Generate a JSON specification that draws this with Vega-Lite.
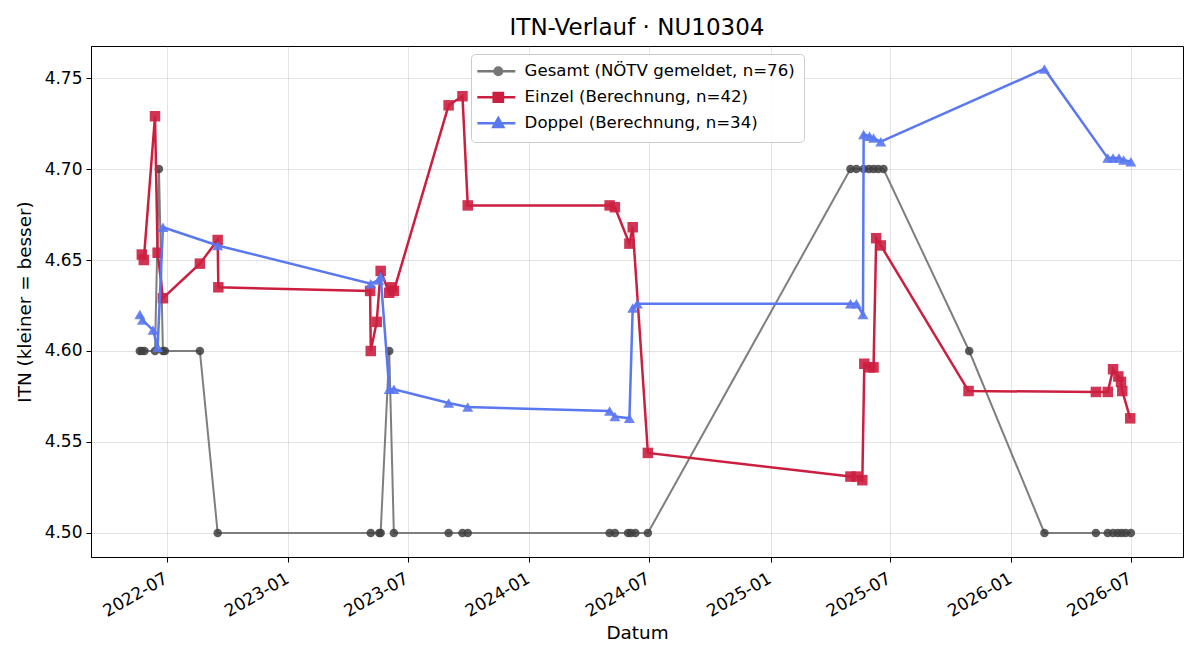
{
  "$schema": "https://vega.github.io/schema/vega-lite/v6.json",
  "width": 1092,
  "height": 511,
  "autosize": {"type": "none"},
  "padding": {"left": 91, "top": 46, "right": 17, "bottom": 103},
  "background": "white",
  "title": {"text": "ITN-Verlauf · NU10304", "fontSize": 23, "font": "DejaVu Sans", "fontWeight": "normal", "offset": 6, "color": "black"},
  "config": {
    "font": "DejaVu Sans",
    "view": {"stroke": "black", "strokeWidth": 1},
    "axis": {"labelFontSize": 17, "titleFontSize": 18.4, "labelColor": "black", "titleColor": "black", "titleFontWeight": "normal", "domainColor": "black", "tickColor": "black", "tickSize": 5, "gridColor": "#b0b0b0", "gridOpacity": 0.35, "labelPadding": 4},
    "legend": {"orient": "none", "legendX": 380, "legendY": 8, "fillColor": "rgba(255,255,255,0.85)", "strokeColor": "#cccccc", "cornerRadius": 4, "padding": 9, "labelFontSize": 16.6, "labelLimit": 500, "labelColor": "black", "symbolSize": 64, "symbolStrokeWidth": 2.5, "symbolOpacity": 1, "rowPadding": 6, "labelOffset": 28}
  },
  "data": {"values": [
    {"series": "Gesamt (NÖTV gemeldet, n=76)", "date": "2022-05-21", "itn": 4.60},
    {"series": "Gesamt (NÖTV gemeldet, n=76)", "date": "2022-05-24", "itn": 4.60},
    {"series": "Gesamt (NÖTV gemeldet, n=76)", "date": "2022-05-28", "itn": 4.60},
    {"series": "Gesamt (NÖTV gemeldet, n=76)", "date": "2022-06-13", "itn": 4.60},
    {"series": "Gesamt (NÖTV gemeldet, n=76)", "date": "2022-06-19", "itn": 4.70},
    {"series": "Gesamt (NÖTV gemeldet, n=76)", "date": "2022-06-25", "itn": 4.60},
    {"series": "Gesamt (NÖTV gemeldet, n=76)", "date": "2022-06-28", "itn": 4.60},
    {"series": "Gesamt (NÖTV gemeldet, n=76)", "date": "2022-08-20", "itn": 4.60},
    {"series": "Gesamt (NÖTV gemeldet, n=76)", "date": "2022-09-16", "itn": 4.50},
    {"series": "Gesamt (NÖTV gemeldet, n=76)", "date": "2023-05-06", "itn": 4.50},
    {"series": "Gesamt (NÖTV gemeldet, n=76)", "date": "2023-05-19", "itn": 4.50},
    {"series": "Gesamt (NÖTV gemeldet, n=76)", "date": "2023-05-21", "itn": 4.50},
    {"series": "Gesamt (NÖTV gemeldet, n=76)", "date": "2023-06-03", "itn": 4.60},
    {"series": "Gesamt (NÖTV gemeldet, n=76)", "date": "2023-06-10", "itn": 4.50},
    {"series": "Gesamt (NÖTV gemeldet, n=76)", "date": "2023-09-01", "itn": 4.50},
    {"series": "Gesamt (NÖTV gemeldet, n=76)", "date": "2023-09-22", "itn": 4.50},
    {"series": "Gesamt (NÖTV gemeldet, n=76)", "date": "2023-09-30", "itn": 4.50},
    {"series": "Gesamt (NÖTV gemeldet, n=76)", "date": "2024-05-02", "itn": 4.50},
    {"series": "Gesamt (NÖTV gemeldet, n=76)", "date": "2024-05-10", "itn": 4.50},
    {"series": "Gesamt (NÖTV gemeldet, n=76)", "date": "2024-05-30", "itn": 4.50},
    {"series": "Gesamt (NÖTV gemeldet, n=76)", "date": "2024-06-03", "itn": 4.50},
    {"series": "Gesamt (NÖTV gemeldet, n=76)", "date": "2024-06-10", "itn": 4.50},
    {"series": "Gesamt (NÖTV gemeldet, n=76)", "date": "2024-06-29", "itn": 4.50},
    {"series": "Gesamt (NÖTV gemeldet, n=76)", "date": "2025-05-02", "itn": 4.70},
    {"series": "Gesamt (NÖTV gemeldet, n=76)", "date": "2025-05-11", "itn": 4.70},
    {"series": "Gesamt (NÖTV gemeldet, n=76)", "date": "2025-05-22", "itn": 4.70},
    {"series": "Gesamt (NÖTV gemeldet, n=76)", "date": "2025-05-30", "itn": 4.70},
    {"series": "Gesamt (NÖTV gemeldet, n=76)", "date": "2025-06-06", "itn": 4.70},
    {"series": "Gesamt (NÖTV gemeldet, n=76)", "date": "2025-06-13", "itn": 4.70},
    {"series": "Gesamt (NÖTV gemeldet, n=76)", "date": "2025-06-21", "itn": 4.70},
    {"series": "Gesamt (NÖTV gemeldet, n=76)", "date": "2025-10-29", "itn": 4.60},
    {"series": "Gesamt (NÖTV gemeldet, n=76)", "date": "2026-02-20", "itn": 4.50},
    {"series": "Gesamt (NÖTV gemeldet, n=76)", "date": "2026-05-09", "itn": 4.50},
    {"series": "Gesamt (NÖTV gemeldet, n=76)", "date": "2026-05-27", "itn": 4.50},
    {"series": "Gesamt (NÖTV gemeldet, n=76)", "date": "2026-06-04", "itn": 4.50},
    {"series": "Gesamt (NÖTV gemeldet, n=76)", "date": "2026-06-11", "itn": 4.50},
    {"series": "Gesamt (NÖTV gemeldet, n=76)", "date": "2026-06-17", "itn": 4.50},
    {"series": "Gesamt (NÖTV gemeldet, n=76)", "date": "2026-06-23", "itn": 4.50},
    {"series": "Gesamt (NÖTV gemeldet, n=76)", "date": "2026-07-01", "itn": 4.50},
    {"series": "Einzel (Berechnung, n=42)", "date": "2022-05-24", "itn": 4.653},
    {"series": "Einzel (Berechnung, n=42)", "date": "2022-05-27", "itn": 4.650},
    {"series": "Einzel (Berechnung, n=42)", "date": "2022-06-13", "itn": 4.729},
    {"series": "Einzel (Berechnung, n=42)", "date": "2022-06-17", "itn": 4.654},
    {"series": "Einzel (Berechnung, n=42)", "date": "2022-06-25", "itn": 4.629},
    {"series": "Einzel (Berechnung, n=42)", "date": "2022-08-20", "itn": 4.648},
    {"series": "Einzel (Berechnung, n=42)", "date": "2022-09-16", "itn": 4.661},
    {"series": "Einzel (Berechnung, n=42)", "date": "2022-09-17", "itn": 4.635},
    {"series": "Einzel (Berechnung, n=42)", "date": "2023-05-05", "itn": 4.633},
    {"series": "Einzel (Berechnung, n=42)", "date": "2023-05-06", "itn": 4.600},
    {"series": "Einzel (Berechnung, n=42)", "date": "2023-05-15", "itn": 4.616},
    {"series": "Einzel (Berechnung, n=42)", "date": "2023-05-21", "itn": 4.644},
    {"series": "Einzel (Berechnung, n=42)", "date": "2023-06-03", "itn": 4.632},
    {"series": "Einzel (Berechnung, n=42)", "date": "2023-06-07", "itn": 4.635},
    {"series": "Einzel (Berechnung, n=42)", "date": "2023-06-10", "itn": 4.633},
    {"series": "Einzel (Berechnung, n=42)", "date": "2023-09-01", "itn": 4.735},
    {"series": "Einzel (Berechnung, n=42)", "date": "2023-09-22", "itn": 4.740},
    {"series": "Einzel (Berechnung, n=42)", "date": "2023-09-30", "itn": 4.680},
    {"series": "Einzel (Berechnung, n=42)", "date": "2024-05-02", "itn": 4.680},
    {"series": "Einzel (Berechnung, n=42)", "date": "2024-05-10", "itn": 4.679},
    {"series": "Einzel (Berechnung, n=42)", "date": "2024-06-01", "itn": 4.659},
    {"series": "Einzel (Berechnung, n=42)", "date": "2024-06-06", "itn": 4.668},
    {"series": "Einzel (Berechnung, n=42)", "date": "2024-06-29", "itn": 4.544},
    {"series": "Einzel (Berechnung, n=42)", "date": "2025-05-02", "itn": 4.531},
    {"series": "Einzel (Berechnung, n=42)", "date": "2025-05-11", "itn": 4.531},
    {"series": "Einzel (Berechnung, n=42)", "date": "2025-05-20", "itn": 4.529},
    {"series": "Einzel (Berechnung, n=42)", "date": "2025-05-23", "itn": 4.593},
    {"series": "Einzel (Berechnung, n=42)", "date": "2025-06-01", "itn": 4.591},
    {"series": "Einzel (Berechnung, n=42)", "date": "2025-06-06", "itn": 4.591},
    {"series": "Einzel (Berechnung, n=42)", "date": "2025-06-10", "itn": 4.662},
    {"series": "Einzel (Berechnung, n=42)", "date": "2025-06-17", "itn": 4.658},
    {"series": "Einzel (Berechnung, n=42)", "date": "2025-10-28", "itn": 4.578},
    {"series": "Einzel (Berechnung, n=42)", "date": "2026-05-09", "itn": 4.5775},
    {"series": "Einzel (Berechnung, n=42)", "date": "2026-05-27", "itn": 4.5775},
    {"series": "Einzel (Berechnung, n=42)", "date": "2026-06-04", "itn": 4.590},
    {"series": "Einzel (Berechnung, n=42)", "date": "2026-06-12", "itn": 4.586},
    {"series": "Einzel (Berechnung, n=42)", "date": "2026-06-16", "itn": 4.583},
    {"series": "Einzel (Berechnung, n=42)", "date": "2026-06-18", "itn": 4.578},
    {"series": "Einzel (Berechnung, n=42)", "date": "2026-06-30", "itn": 4.563},
    {"series": "Doppel (Berechnung, n=34)", "date": "2022-05-21", "itn": 4.620},
    {"series": "Doppel (Berechnung, n=34)", "date": "2022-05-25", "itn": 4.617},
    {"series": "Doppel (Berechnung, n=34)", "date": "2022-06-10", "itn": 4.6115},
    {"series": "Doppel (Berechnung, n=34)", "date": "2022-06-17", "itn": 4.602},
    {"series": "Doppel (Berechnung, n=34)", "date": "2022-06-25", "itn": 4.668},
    {"series": "Doppel (Berechnung, n=34)", "date": "2022-09-16", "itn": 4.658},
    {"series": "Doppel (Berechnung, n=34)", "date": "2023-05-06", "itn": 4.637},
    {"series": "Doppel (Berechnung, n=34)", "date": "2023-05-18", "itn": 4.639},
    {"series": "Doppel (Berechnung, n=34)", "date": "2023-05-21", "itn": 4.641},
    {"series": "Doppel (Berechnung, n=34)", "date": "2023-06-03", "itn": 4.579},
    {"series": "Doppel (Berechnung, n=34)", "date": "2023-06-10", "itn": 4.579},
    {"series": "Doppel (Berechnung, n=34)", "date": "2023-09-01", "itn": 4.5714},
    {"series": "Doppel (Berechnung, n=34)", "date": "2023-09-30", "itn": 4.5692},
    {"series": "Doppel (Berechnung, n=34)", "date": "2024-05-02", "itn": 4.567},
    {"series": "Doppel (Berechnung, n=34)", "date": "2024-05-10", "itn": 4.564},
    {"series": "Doppel (Berechnung, n=34)", "date": "2024-06-01", "itn": 4.563},
    {"series": "Doppel (Berechnung, n=34)", "date": "2024-06-06", "itn": 4.6236},
    {"series": "Doppel (Berechnung, n=34)", "date": "2024-06-13", "itn": 4.626},
    {"series": "Doppel (Berechnung, n=34)", "date": "2025-05-02", "itn": 4.626},
    {"series": "Doppel (Berechnung, n=34)", "date": "2025-05-11", "itn": 4.626},
    {"series": "Doppel (Berechnung, n=34)", "date": "2025-05-21", "itn": 4.620},
    {"series": "Doppel (Berechnung, n=34)", "date": "2025-05-22", "itn": 4.719},
    {"series": "Doppel (Berechnung, n=34)", "date": "2025-05-31", "itn": 4.718},
    {"series": "Doppel (Berechnung, n=34)", "date": "2025-06-06", "itn": 4.717},
    {"series": "Doppel (Berechnung, n=34)", "date": "2025-06-17", "itn": 4.715},
    {"series": "Doppel (Berechnung, n=34)", "date": "2026-02-20", "itn": 4.755},
    {"series": "Doppel (Berechnung, n=34)", "date": "2026-05-27", "itn": 4.706},
    {"series": "Doppel (Berechnung, n=34)", "date": "2026-06-04", "itn": 4.706},
    {"series": "Doppel (Berechnung, n=34)", "date": "2026-06-13", "itn": 4.706},
    {"series": "Doppel (Berechnung, n=34)", "date": "2026-06-20", "itn": 4.705},
    {"series": "Doppel (Berechnung, n=34)", "date": "2026-07-01", "itn": 4.704}
  ]},
  "encoding": {
    "x": {
      "field": "date", "type": "temporal",
      "scale": {"domain": [{"year": 2022, "month": 3, "date": 8}, {"year": 2026, "month": 9, "date": 18}], "nice": false},
      "axis": {
        "title": "Datum", "format": "%Y-%m", "labelAngle": -30, "labelAlign": "right", "labelBaseline": "top",
        "values": [
          {"year": 2022, "month": 7, "date": 1}, {"year": 2023, "month": 1, "date": 1},
          {"year": 2023, "month": 7, "date": 1}, {"year": 2024, "month": 1, "date": 1},
          {"year": 2024, "month": 7, "date": 1}, {"year": 2025, "month": 1, "date": 1},
          {"year": 2025, "month": 7, "date": 1}, {"year": 2026, "month": 1, "date": 1},
          {"year": 2026, "month": 7, "date": 1}
        ],
        "labelOverlap": false, "labelFlush": false, "labelOffset": -5, "labelPadding": 8, "titlePadding": 4
      }
    },
    "y": {
      "field": "itn", "type": "quantitative",
      "scale": {"domain": [4.4868, 4.7676], "nice": false, "zero": false},
      "axis": {"title": "ITN  (kleiner = besser)", "format": ".2f", "values": [4.5, 4.55, 4.6, 4.65, 4.7, 4.75], "titlePadding": 10}
    }
  },
  "layer": [
    {
      "transform": [{"filter": "datum.series === 'Gesamt (NÖTV gemeldet, n=76)'"}],
      "mark": {"type": "line", "color": "#777777", "strokeWidth": 2, "opacity": 0.95}
    },
    {
      "transform": [{"filter": "datum.series === 'Gesamt (NÖTV gemeldet, n=76)'"}],
      "mark": {"type": "point", "shape": "circle", "filled": true, "size": 72, "color": "#404040", "opacity": 0.85}
    },
    {
      "transform": [{"filter": "datum.series === 'Einzel (Berechnung, n=42)'"}],
      "mark": {"type": "line", "color": "#cc1f40", "strokeWidth": 2.5}
    },
    {
      "transform": [{"filter": "datum.series === 'Einzel (Berechnung, n=42)'"}],
      "mark": {"type": "point", "shape": "square", "filled": true, "size": 110, "color": "#cc1f40", "opacity": 0.9}
    },
    {
      "transform": [{"filter": "datum.series === 'Doppel (Berechnung, n=34)'"}],
      "mark": {"type": "line", "color": "#5a78f0", "strokeWidth": 2.5}
    },
    {
      "transform": [{"filter": "datum.series === 'Doppel (Berechnung, n=34)'"}],
      "mark": {"type": "point", "shape": "triangle-up", "filled": true, "size": 120, "color": "#5a78f0", "opacity": 0.9}
    },
    {
      "mark": {"type": "point", "filled": true, "opacity": 0},
      "encoding": {
        "fill": {"field": "series", "type": "nominal",
          "scale": {"domain": ["Gesamt (NÖTV gemeldet, n=76)", "Einzel (Berechnung, n=42)", "Doppel (Berechnung, n=34)"], "range": ["#777777", "#cc1f40", "#5a78f0"]},
          "legend": {"title": null}},
        "stroke": {"field": "series", "type": "nominal",
          "scale": {"domain": ["Gesamt (NÖTV gemeldet, n=76)", "Einzel (Berechnung, n=42)", "Doppel (Berechnung, n=34)"], "range": ["#777777", "#cc1f40", "#5a78f0"]},
          "legend": {"title": null}},
        "shape": {"field": "series", "type": "nominal",
          "scale": {"domain": ["Gesamt (NÖTV gemeldet, n=76)", "Einzel (Berechnung, n=42)", "Doppel (Berechnung, n=34)"],
            "range": ["M-2.75,0H6.75M3.45,0A0.95,0.95,0,1,1,1.55,0A0.95,0.95,0,1,1,3.45,0Z", "M-2.75,0H6.75M1.35,-1.1H3.65V1.1H1.35Z", "M-2.75,0H6.75M2.5,-1.3L3.75,0.95H1.25Z"]},
          "legend": {"title": null}}
      }
    }
  ]
}
